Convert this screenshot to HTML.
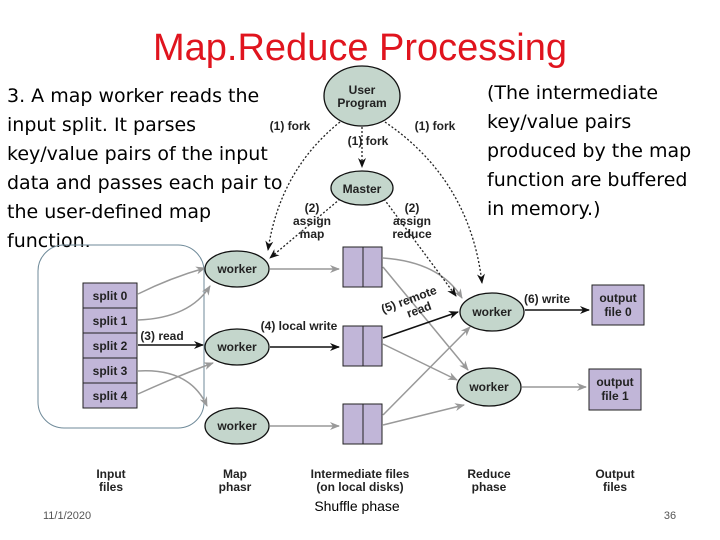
<!DOCTYPE html>
<html><head><meta charset="utf-8"><style>
body{margin:0;background:#fff}
svg{display:block}
.c{font-family:"Liberation Sans",sans-serif}
.d{font-family:"Liberation Sans",sans-serif;font-size:12px;font-weight:bold;fill:#222}
.t{font-family:"DejaVu Sans","Liberation Sans",sans-serif;font-size:19px;fill:#000}
</style></head><body>
<svg width="720" height="540" viewBox="0 0 720 540" xmlns="http://www.w3.org/2000/svg">
<defs>
<marker id="ab" markerWidth="10" markerHeight="8" refX="9" refY="4" orient="auto" markerUnits="userSpaceOnUse"><path d="M0,0 L10,4 L0,8 L3,4z" fill="#111"/></marker>
<marker id="ag" markerWidth="10" markerHeight="8" refX="9" refY="4" orient="auto" markerUnits="userSpaceOnUse"><path d="M0,0 L10,4 L0,8 L3,4z" fill="#999"/></marker>
</defs>
<text x="360" y="60" text-anchor="middle" class="c" font-size="38" fill="#e0141e">Map.Reduce Processing</text>
<g class="t">
<text x="7" y="102">3. A map worker reads the</text>
<text x="7" y="131">input split. It parses</text>
<text x="7" y="160">key/value pairs of the input</text>
<text x="7" y="189">data and passes each pair to</text>
<text x="7" y="218">the user-defined map</text>
<text x="7" y="247">function.</text>
<text x="487" y="99">(The intermediate</text>
<text x="487" y="128">key/value pairs</text>
<text x="487" y="157">produced by the map</text>
<text x="487" y="186">function are buffered</text>
<text x="487" y="215">in memory.)</text>
</g>
<rect x="38" y="245" width="166" height="183" rx="26" fill="none" stroke="#6f8a99" stroke-width="1"/>
<g fill="#c1b6d8" stroke="#222" stroke-width="1">
<rect x="83" y="283" width="54" height="25"/><rect x="83" y="308" width="54" height="25"/><rect x="83" y="333" width="54" height="25"/><rect x="83" y="358" width="54" height="25"/><rect x="83" y="383" width="54" height="25"/>
<rect x="343" y="247" width="20" height="40"/><rect x="363" y="247" width="19" height="40"/>
<rect x="343" y="326" width="20" height="40"/><rect x="363" y="326" width="19" height="40"/>
<rect x="343" y="404" width="20" height="40"/><rect x="363" y="404" width="19" height="40"/>
<rect x="592" y="285" width="52" height="40"/><rect x="589" y="369" width="52" height="41"/>
</g>
<g class="d" text-anchor="middle">
<text x="110" y="300">split 0</text><text x="110" y="325">split 1</text><text x="110" y="350">split 2</text><text x="110" y="375">split 3</text><text x="110" y="400">split 4</text>
<text x="618" y="302">output</text><text x="618" y="316">file 0</text>
<text x="615" y="386">output</text><text x="615" y="400">file 1</text>
</g>
<g fill="none" stroke="#999" stroke-width="1.5" marker-end="url(#ag)">
<path d="M138,294 Q170,278 205,268"/>
<path d="M138,320 Q190,318 210,286"/>
<path d="M138,394 Q180,375 213,363"/>
<path d="M138,371 Q190,368 207,406"/>
<path d="M270,269 L339,269"/>
<path d="M270,426 L339,426"/>
<path d="M383,258 Q440,262 462,298"/>
<path d="M383,267 L468,370"/>
<path d="M383,344 L457,380"/>
<path d="M383,415 L470,327"/>
<path d="M383,425 L464,405"/>
<path d="M522,387 L586,387"/>
</g>
<g fill="none" stroke="#111" stroke-width="1.5" marker-end="url(#ab)">
<path d="M138,345 L203,345"/>
<path d="M270,347 L339,347"/>
<path d="M383,338 L458,312"/>
<path d="M525,310 L589,310"/>
</g>
<g fill="none" stroke="#222" stroke-width="1.3" stroke-dasharray="2,2" marker-end="url(#ab)">
<path d="M340,122 Q280,170 268,250"/>
<path d="M385,122 Q470,180 482,283"/>
<path d="M362,127 L362,167"/>
<path d="M340,199 L270,258"/>
<path d="M384,199 L456,296"/>
</g>
<g fill="#c4d6cc" stroke="#111" stroke-width="1.3">
<ellipse cx="237" cy="269" rx="32" ry="18"/><ellipse cx="237" cy="347" rx="32" ry="18"/><ellipse cx="237" cy="426" rx="32" ry="18"/>
<ellipse cx="362" cy="96" rx="38" ry="30"/><ellipse cx="362" cy="188" rx="31" ry="17"/>
<ellipse cx="492" cy="312" rx="32" ry="19"/><ellipse cx="489" cy="387" rx="32" ry="19"/>
</g>
<g class="d" text-anchor="middle">
<text x="237" y="273">worker</text><text x="237" y="351">worker</text><text x="237" y="430">worker</text>
<text x="362" y="94">User</text><text x="362" y="107">Program</text><text x="362" y="193">Master</text>
<text x="492" y="316">worker</text><text x="489" y="391">worker</text>
<text x="290" y="130">(1) fork</text><text x="435" y="130">(1) fork</text><text x="368" y="145">(1) fork</text>
<text x="312" y="212">(2)</text><text x="312" y="225">assign</text><text x="312" y="238">map</text>
<text x="412" y="212">(2)</text><text x="412" y="225">assign</text><text x="412" y="238">reduce</text>
<text x="162" y="340">(3) read</text><text x="299" y="330">(4) local write</text>
<text x="547" y="303">(6) write</text>
<g transform="rotate(-20 412 308)"><text x="412" y="303">(5) remote</text><text x="418" y="316">read</text></g>
<text x="111" y="478">Input</text><text x="111" y="491">files</text>
<text x="235" y="478">Map</text><text x="235" y="491">phasr</text>
<text x="360" y="478">Intermediate files</text><text x="360" y="491">(on local disks)</text>
<text x="489" y="478">Reduce</text><text x="489" y="491">phase</text>
<text x="615" y="478">Output</text><text x="615" y="491">files</text>
</g>
<text x="43" y="519" class="c" font-size="11" fill="#555">11/1/2020</text>
<text x="357" y="511" class="c" font-size="14" text-anchor="middle" fill="#000">Shuffle phase</text>
<text x="670" y="519" class="c" font-size="11" text-anchor="middle" fill="#555">36</text>
</svg>
</body></html>
